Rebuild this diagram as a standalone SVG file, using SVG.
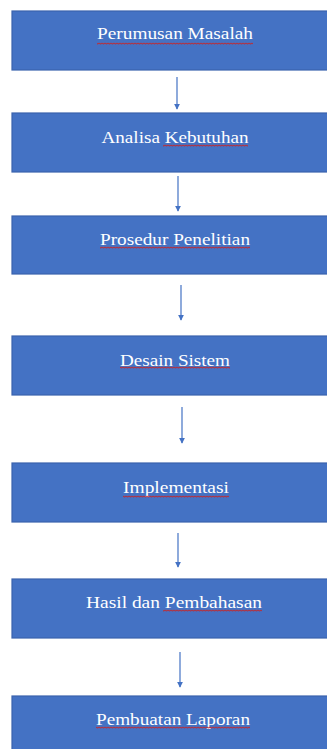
<svg xmlns="http://www.w3.org/2000/svg" width="327" height="749" viewBox="0 0 327 749">
<style>
.box{fill:#4472C4;stroke:#3A63AD;stroke-width:1.2}
.lbl{font-family:"Liberation Serif","Times New Roman",serif;font-size:17px;fill:#FFFFFF;text-anchor:middle}
.con{stroke:#4472C4;stroke-width:1.2;fill:none}
</style>
<defs>
<marker id="ah" viewBox="0 0 8 8" refX="7" refY="4" markerWidth="6" markerHeight="6" orient="auto" markerUnits="userSpaceOnUse">
<path d="M0,0 L8,4 L0,8 Z" fill="#4472C4"/>
</marker>
<pattern id="wave" x="0" y="0" width="3" height="3" patternUnits="userSpaceOnUse">
<path d="M0,2.3 L0.75,0.9 L1.5,2.3 L2.25,0.9 L3,2.3" fill="none" stroke="#C0282E" stroke-width="0.8"/>
</pattern>
</defs>
<rect width="327" height="749" fill="#FFFFFF"/>
<g id="connectors">
<line class="con" x1="177" y1="77" x2="177" y2="109" marker-end="url(#ah)"/>
<line class="con" x1="178" y1="176" x2="178" y2="211" marker-end="url(#ah)"/>
<line class="con" x1="181" y1="285" x2="181" y2="320" marker-end="url(#ah)"/>
<line class="con" x1="182" y1="407" x2="182" y2="443" marker-end="url(#ah)"/>
<line class="con" x1="178" y1="533" x2="178" y2="567" marker-end="url(#ah)"/>
<line class="con" x1="180" y1="652" x2="180" y2="687" marker-end="url(#ah)"/>
</g>
<g id="n1">
<rect class="box" x="12" y="11" width="320" height="59"/>
<text class="lbl" x="175" y="39" textLength="156" lengthAdjust="spacingAndGlyphs">Perumusan Masalah</text>
<rect x="97" y="42" width="156" height="3" fill="url(#wave)"/>
</g>
<g id="n2">
<rect class="box" x="12" y="113" width="320" height="59"/>
<text class="lbl" x="175" y="143" textLength="147" lengthAdjust="spacingAndGlyphs">Analisa Kebutuhan</text>
<rect x="163" y="144" width="85" height="3" fill="url(#wave)"/>
</g>
<g id="n3">
<rect class="box" x="12" y="216" width="320" height="58"/>
<text class="lbl" x="175" y="245" textLength="150" lengthAdjust="spacingAndGlyphs">Prosedur Penelitian</text>
<rect x="100" y="246" width="150" height="3" fill="url(#wave)"/>
</g>
<g id="n4">
<rect class="box" x="12" y="336" width="320" height="59"/>
<text class="lbl" x="175" y="366" textLength="110" lengthAdjust="spacingAndGlyphs">Desain Sistem</text>
<rect x="120" y="366" width="110" height="3" fill="url(#wave)"/>
</g>
<g id="n5">
<rect class="box" x="12" y="463" width="320" height="59"/>
<text class="lbl" x="176" y="493" textLength="106" lengthAdjust="spacingAndGlyphs">Implementasi</text>
<rect x="123" y="495" width="106" height="3" fill="url(#wave)"/>
</g>
<g id="n6">
<rect class="box" x="12" y="579" width="320" height="59"/>
<text class="lbl" x="174" y="608" textLength="176" lengthAdjust="spacingAndGlyphs">Hasil dan Pembahasan</text>
<rect x="163" y="609" width="99" height="3" fill="url(#wave)"/>
</g>
<g id="n7">
<rect class="box" x="12" y="696" width="320" height="60"/>
<text class="lbl" x="173" y="725" textLength="154" lengthAdjust="spacingAndGlyphs">Pembuatan Laporan</text>
<rect x="96" y="726" width="154" height="3" fill="url(#wave)"/>
</g>
</svg>
